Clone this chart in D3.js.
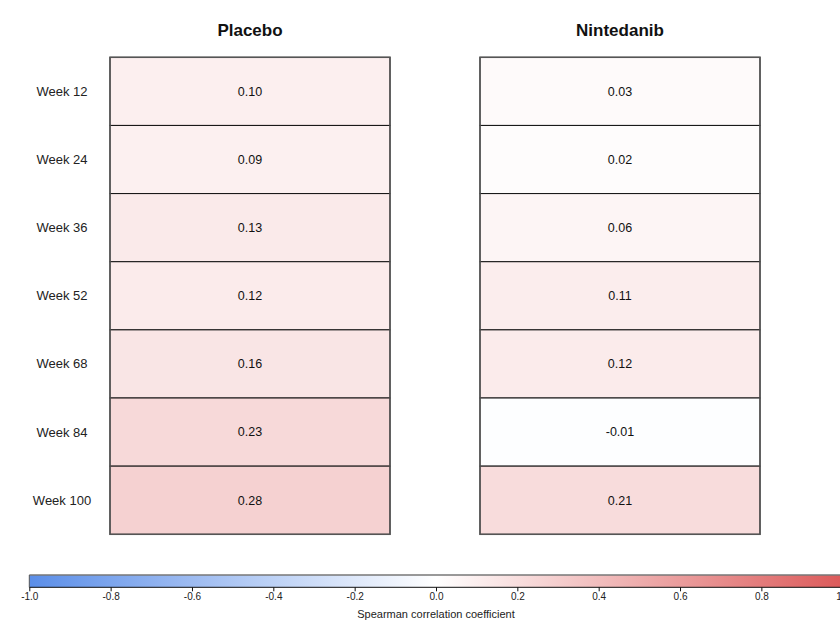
<!DOCTYPE html>
<html>
<head>
<meta charset="utf-8">
<script src="https://cdn.jsdelivr.net/npm/d3@7"></script>
<style>
  body { margin: 0; background: #fff; }
  text { font-family: "Liberation Sans", Arial, Helvetica, sans-serif; fill: #111; }
</style>
</head>
<body>
<div id="chart"></div>
<script>
// data
const weeks = ["Week 12", "Week 24", "Week 36", "Week 52", "Week 68", "Week 84", "Week 100"];
const groups = ["Placebo", "Nintedanib"];
const placebo = [0.10, 0.09, 0.13, 0.12, 0.16, 0.23, 0.28];
const nintedanib = [0.03, 0.02, 0.06, 0.11, 0.12, -0.01, 0.21];
const legendTicks = [-1.0, -0.8, -0.6, -0.4, -0.2, 0.0, 0.2, 0.4, 0.6, 0.8, 1.0];

const width = 840, height = 621;

// plain hyphen instead of unicode minus
const fmtLocale = d3.formatLocale({decimal: ".", thousands: ",", grouping: [3], currency: ["", ""], minus: "-"});
const fmt2 = fmtLocale.format(".2f");
const fmt1 = fmtLocale.format(".1f");

const svg = d3.select("#chart")
    .append("svg")
    .attr("width", width)
    .attr("height", height);

const color = d3.scaleLinear()
    .domain([-1, 0, 1])
    .range(["#5b8ee8", "#ffffff", "#dc5a5a"]);

// panels
const panelW = 280;
const panelX = {Placebo: 110, Nintedanib: 480};

const yScale = d3.scaleBand()
    .domain(weeks)
    .range([57.3, 534.3]);

const series = {Placebo: placebo, Nintedanib: nintedanib};

groups.forEach(g => {
    const x0 = panelX[g];
    const cells = weeks.map((w, i) => ({week: w, value: series[g][i]}));

    svg.selectAll(".cell-" + g)
        .data(cells)
        .enter()
        .append("rect")
        .attr("x", x0)
        .attr("y", d => yScale(d.week))
        .attr("width", panelW)
        .attr("height", yScale.bandwidth())
        .attr("fill", d => color(d.value))
        .attr("stroke", "#111")
        .attr("stroke-width", 1);

    svg.selectAll(".val-" + g)
        .data(cells)
        .enter()
        .append("text")
        .attr("x", x0 + panelW / 2)
        .attr("y", d => yScale(d.week) + yScale.bandwidth() / 2)
        .attr("dy", "0.35em")
        .attr("text-anchor", "middle")
        .style("font-size", "12.5px")
        .text(d => fmt2(d.value));

    // outer frame
    svg.append("rect")
        .attr("x", x0)
        .attr("y", yScale.range()[0])
        .attr("width", panelW)
        .attr("height", yScale.range()[1] - yScale.range()[0])
        .attr("fill", "none")
        .attr("stroke", "#555")
        .attr("stroke-width", 1.5);

    svg.append("text")
        .attr("x", x0 + panelW / 2)
        .attr("y", 36)
        .attr("text-anchor", "middle")
        .style("font-size", "17px")
        .style("font-weight", "bold")
        .text(g);
});

// row labels
svg.selectAll(".week-label")
    .data(weeks)
    .enter()
    .append("text")
    .attr("class", "week-label")
    .attr("x", 62)
    .attr("y", d => yScale(d) + yScale.bandwidth() / 2)
    .attr("dy", "0.35em")
    .attr("text-anchor", "middle")
    .style("font-size", "13px")
    .style("fill", "#222")
    .text(d => d);

// color bar
const xLegend = d3.scaleLinear()
    .domain([-1, 1])
    .range([29.3, 842.7]);

const grad = svg.append("defs")
    .append("linearGradient")
    .attr("id", "cbar")
    .attr("x1", "0%").attr("x2", "100%");

grad.selectAll("stop")
    .data(legendTicks)
    .enter()
    .append("stop")
    .attr("offset", d => ((d + 1) / 2 * 100) + "%")
    .attr("stop-color", d => color(d));

const barTop = 575, barH = 12.3;
svg.append("rect")
    .attr("x", xLegend(-1))
    .attr("y", barTop)
    .attr("width", xLegend(1) - xLegend(-1))
    .attr("height", barH)
    .attr("fill", "url(#cbar)");

svg.append("line")
    .attr("x1", xLegend(-1)).attr("x2", xLegend(1))
    .attr("y1", barTop).attr("y2", barTop)
    .attr("stroke", "#777").attr("stroke-width", 1.5);
svg.append("line")
    .attr("x1", xLegend(-1)).attr("x2", xLegend(1))
    .attr("y1", barTop + barH).attr("y2", barTop + barH)
    .attr("stroke", "#111").attr("stroke-width", 1);
svg.append("line")
    .attr("x1", xLegend(-1)).attr("x2", xLegend(-1))
    .attr("y1", barTop).attr("y2", barTop + barH)
    .attr("stroke", "#555").attr("stroke-width", 1);

const legendAxis = d3.axisBottom(xLegend)
    .tickValues(legendTicks)
    .tickFormat(fmt1)
    .tickSize(4)
    .tickPadding(2);

const axisG = svg.append("g")
    .attr("transform", `translate(0,${barTop + barH})`)
    .call(legendAxis);
axisG.select(".domain").remove();
axisG.selectAll("line").attr("stroke", "#111");
axisG.selectAll("text")
    .style("font-size", "10px")
    .style("fill", "#222")
    .style("font-family", "'Liberation Sans Narrow', 'Liberation Sans', Arial, sans-serif");

svg.append("text")
    .attr("x", xLegend(0))
    .attr("y", 618)
    .attr("text-anchor", "middle")
    .style("font-size", "11px")
    .style("fill", "#222")
    .text("Spearman correlation coefficient");
</script>
</body>
</html>
